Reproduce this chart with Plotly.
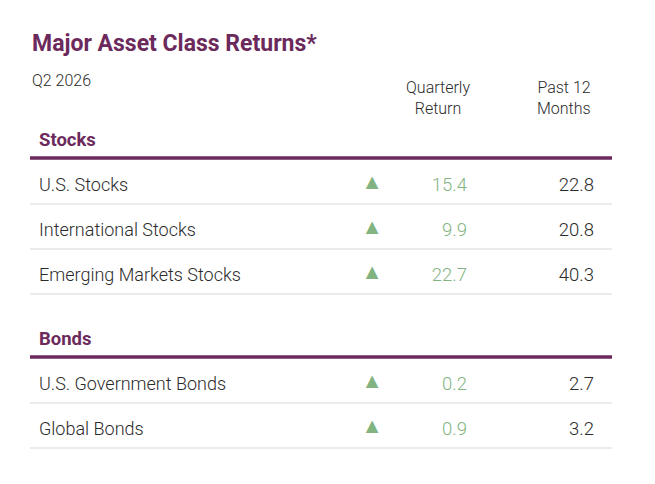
import plotly.graph_objects as go

# table content
groups = ["Stocks", "Bonds"]
assets = [
    ["U.S. Stocks", "International Stocks", "Emerging Markets Stocks"],
    ["U.S. Government Bonds", "Global Bonds"],
]
quarterly = [[15.4, 9.9, 22.7], [0.2, 0.9]]
past_12m = [[22.8, 20.8, 40.3], [2.7, 3.2]]
col_headers = ["Quarterly<br>Return", "Past 12<br>Months"]
title = "Major Asset Class Returns*"
subtitle = "Q2 2026"

PURPLE = "#6c2a5c"
GREEN = "#82b482"
TEXT = "#2b2b2b"
FONT = "Roboto"

# layout in pixels (page has an 8px body margin)
W, H = 655, 484
OFF = 8
X0, X1 = 30, 612
ROW_H = 45
GROUP_GAP = 64
TXT_DY = 2

fig = go.Figure()
shapes = []

y = 139
lab_x, lab_y, tri_y, q_txt, p_txt = [], [], [], [], []
head_y = []
for g, name in enumerate(groups):
    head_y.append(y + TXT_DY)
    shapes.append(dict(type="line", xref="x", yref="y", x0=X0, x1=X1, y0=y + 19, y1=y + 19,
                       line=dict(color=PURPLE, width=3.5)))
    ry = y + ROW_H
    for i, a in enumerate(assets[g]):
        lab_y.append(ry + TXT_DY)
        lab_x.append(a)
        tri_y.append(ry - 1)
        q_txt.append(f"{quarterly[g][i]:.1f}")
        p_txt.append(f"{past_12m[g][i]:.1f}")
        shapes.append(dict(type="line", xref="x", yref="y", x0=X0, x1=X1, y0=ry + 20, y1=ry + 20,
                           line=dict(color="#ebebeb", width=2)))
        ry += ROW_H
    y = ry - ROW_H + GROUP_GAP

# group headers
fig.add_trace(go.Scatter(x=[39] * len(groups), y=head_y, text=[f"<b>{g}</b>" for g in groups],
                         mode="text", textposition="middle right",
                         textfont=dict(family=FONT, size=18.5, color=PURPLE), hoverinfo="skip"))
# asset names
fig.add_trace(go.Scatter(x=[39] * len(lab_x), y=lab_y, text=lab_x, mode="text",
                         textposition="middle right",
                         textfont=dict(family=FONT, size=18, color=TEXT, weight=300),
                         hoverinfo="skip"))
# up triangles
fig.add_trace(go.Scatter(x=[372] * len(tri_y), y=tri_y, text=["▲"] * len(tri_y), mode="text",
                         textposition="middle center",
                         textfont=dict(family="DejaVu Sans", size=16.5, color=GREEN),
                         hoverinfo="skip"))
# quarterly values
fig.add_trace(go.Scatter(x=[467] * len(q_txt), y=lab_y, text=q_txt, mode="text",
                         textposition="middle left",
                         textfont=dict(family=FONT, size=18.5, color=GREEN, weight=300),
                         hoverinfo="skip"))
# 12 month values
fig.add_trace(go.Scatter(x=[594] * len(p_txt), y=lab_y, text=p_txt, mode="text",
                         textposition="middle left",
                         textfont=dict(family=FONT, size=18.5, color=TEXT, weight=300),
                         hoverinfo="skip"))

annotations = [
    dict(x=X0, y=43, text=f"<b>{title}</b>", xanchor="left", yanchor="middle",
         font=dict(family=FONT, size=23, color=PURPLE)),
    dict(x=X0, y=80, text=subtitle, xanchor="left", yanchor="middle",
         font=dict(family=FONT, size=16, color=TEXT, weight=300)),
    dict(x=438, y=98, text=col_headers[0], xanchor="center", yanchor="middle", align="center",
         font=dict(family=FONT, size=16, color=TEXT, weight=300)),
    dict(x=593, y=98, text=col_headers[1], xanchor="right", yanchor="middle", align="right",
         font=dict(family=FONT, size=16, color=TEXT, weight=300)),
]
for a in annotations:
    a.update(xref="x", yref="y", showarrow=False)

fig.update_layout(
    width=W, height=H,
    margin=dict(l=0, r=0, t=0, b=0),
    paper_bgcolor="white", plot_bgcolor="white",
    showlegend=False,
    xaxis=dict(range=[OFF, W + OFF], visible=False, fixedrange=True),
    yaxis=dict(range=[H + OFF, OFF], visible=False, fixedrange=True),
    shapes=shapes,
    annotations=annotations,
)

fig.write_html("out.html")
